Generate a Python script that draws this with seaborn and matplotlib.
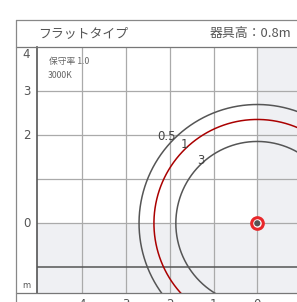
import numpy as np
import pandas as pd
import matplotlib
matplotlib.use("Agg")
import matplotlib.pyplot as plt
from matplotlib.lines import Line2D
import seaborn as sns

# ---- data ----
levels = ["0.5", "1", "3"]          # lux levels
radii = [2.70, 2.36, 1.86]          # radius in m
level_colors = ["#555555", "#aa0000", "#555555"]
xtick_vals = [-4, -3, -2, -1, 0]
xtick_labels = ["4", "3", "2", "1", "0"]
ytick_vals = [4, 3, 2, 0]
ytick_labels = ["4", "3", "2", "0"]
title_left = "フラットタイプ"
title_right = "器具高：0.8m"
note_lines = ["保守率 1.0", "3000K"]
center_x = [0.0]
center_y = [0.0]

sns.set_theme(style="white")
plt.rcParams["font.family"] = ["Noto Sans CJK JP", "DejaVu Sans"]

W, H = 297, 302
fig = plt.figure(figsize=(W / 100, H / 100), dpi=100)

def fx(x):
    return x / W

def fy(y):
    return 1 - y / H

ax_l, ax_r, ax_t, ax_b = 36.7, 297.0, 47.0, 293.3
ax = fig.add_axes([fx(ax_l), fy(ax_b), fx(ax_r - ax_l), (ax_b - ax_t) / H])

sx, sy = 43.8, 44.0
x0, y0 = 257.3, 223.3
ax.set_xlim((ax_l - x0) / sx, (ax_r - x0) / sx)
ax.set_ylim((y0 - ax_b) / sy, (y0 - ax_t) / sy)

grey_bg = "#eff0f3"
ax.axvspan(0, 5, color=grey_bg, zorder=0, lw=0)
ax.axhspan(-5, 0, color=grey_bg, zorder=0, lw=0)

for v in [-4, -3, -2, -1, 0, 1]:
    ax.axvline(v, color="#aaaaaa", lw=0.9, zorder=1)
for v in [0, 1, 2, 3]:
    ax.axhline(v, color="#aaaaaa", lw=0.9, zorder=1)
ax.axhline(-1, color="#555555", lw=1.1, zorder=1)

# circles
t = np.linspace(0, 2 * np.pi, 721)
rows = []
for lev, r in zip(levels, radii):
    for tt in t:
        rows.append((lev, r * np.cos(tt), r * np.sin(tt)))
df = pd.DataFrame(rows, columns=["level", "x", "y"])
sns.lineplot(data=df, x="x", y="y", hue="level", sort=False, estimator=None,
             palette=dict(zip(levels, level_colors)), lw=1.1, ax=ax,
             legend=False, zorder=3)

# level labels
lab_pos = {"0.5": (166, 137), "1": (184, 145), "3": (201, 161)}
for lev in levels:
    px, py = lab_pos[lev]
    ax.text((px - x0) / sx, (y0 - py) / sy, lev, ha="center", va="center",
            fontsize=8.5, color="#444444", family="DejaVu Sans", zorder=4)

# center marker
cdf = pd.DataFrame({"x": center_x, "y": center_y})
sns.scatterplot(data=cdf, x="x", y="y", s=70, color="white",
                edgecolor="#e8282b", linewidth=2.2, ax=ax, zorder=5)
sns.scatterplot(data=cdf, x="x", y="y", s=20, color="#555555",
                edgecolor="none", ax=ax, zorder=6)

ax.set_xticks([])
ax.set_yticks([])
ax.set_xlabel("")
ax.set_ylabel("")
for s in ["top", "right", "bottom"]:
    ax.spines[s].set_visible(False)
ax.spines["left"].set_color("#555555")
ax.spines["left"].set_linewidth(1.2)

# frame lines
frame_c = "#888888"
fig.add_artist(Line2D([fx(16), fx(297)], [fy(20), fy(20)], color=frame_c, lw=0.9))
fig.add_artist(Line2D([fx(16), fx(297)], [fy(47), fy(47)], color="#777777", lw=0.9))
fig.add_artist(Line2D([fx(16), fx(297)], [fy(293.3), fy(293.3)], color="#777777", lw=0.9))
fig.add_artist(Line2D([fx(16), fx(16)], [fy(20), fy(302)], color=frame_c, lw=0.9))

# titles
fig.text(fx(38), fy(33.5), title_left, ha="left", va="center", fontsize=9.3, color="#555555")
fig.text(fx(291), fy(33.5), title_right, ha="right", va="center", fontsize=9.3, color="#555555")

# notes
fig.text(fx(49), fy(62), note_lines[0], ha="left", va="center", fontsize=6.3, color="#666666")
fig.text(fx(48), fy(75), note_lines[1], ha="left", va="center", fontsize=6.3, color="#666666")

# y labels
for v, lab in zip(ytick_vals, ytick_labels):
    ypix = y0 - v * sy
    if v == 4:
        ypix = 54
    fig.text(fx(26.5), fy(ypix), lab, ha="center", va="center", fontsize=8.5,
             color="#555555", family="DejaVu Sans")
fig.text(fx(26.5), fy(285), "m", ha="center", va="center", fontsize=6,
         color="#555555", family="DejaVu Sans")

# x labels (cut off at bottom)
for v, lab in zip(xtick_vals, xtick_labels):
    xpix = x0 + v * sx
    fig.text(fx(xpix), fy(297.5), lab, ha="center", va="top", fontsize=8.5,
             color="#555555", family="DejaVu Sans")

fig.savefig("out.png", dpi=100)
